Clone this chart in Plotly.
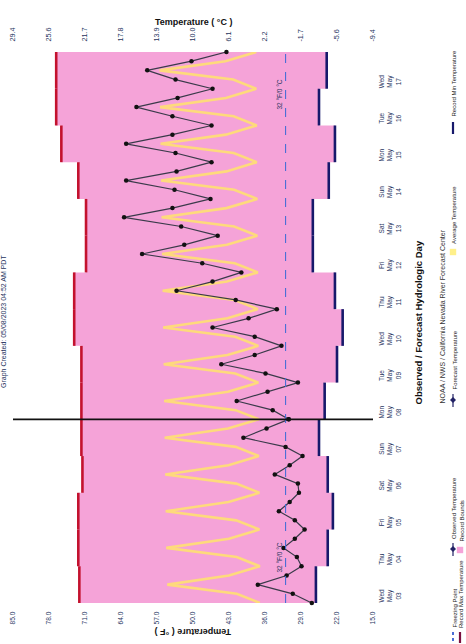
import plotly.graph_objects as go
import pandas as pd

# ---------------- data ----------------
start_time = "2023-05-02 20:00"
n_points = 61  # 6-hourly, 15 days

obs_temp = [26.9, 30.6, 37.4, 31.8, 28.9, 29.8, 32.4, 30.2, 28.3, 30.2, 33.3,
            31.2, 29.4, 29.6, 34.1, 31.2, 28.7, 32.0, 40.2, 35.7, 31.4]
fcst_temp = [34.5, 41.5, 35.5, 29.6, 35.9, 44.5, 38.0, 32.8, 38.0, 46.2,
             39.2, 33.7, 41.7, 53.2, 46.2, 40.6, 48.2, 59.9, 51.7, 45.2,
             52.3, 63.4, 54.0, 46.6, 53.6, 63.0, 53.2, 46.4, 53.4, 63.0,
             54.0, 46.4, 54.0, 61.0, 53.0, 46.2, 53.4, 58.9, 50.3, 43.5]
avg_temp = [37.0, 41.5, 55.0, 43.0, 37.0, 41.5, 55.2, 43.0, 37.1, 41.6, 55.3, 43.1,
            37.1, 41.6, 55.4, 43.1, 37.2, 41.7, 55.5, 43.2, 37.2, 41.7, 55.6, 43.2,
            37.3, 41.8, 55.7, 43.3, 37.3, 41.8, 55.8, 43.3, 37.4, 41.9, 55.9, 43.4,
            37.4, 41.9, 56.0, 43.4, 37.5, 42.0, 56.1, 43.5, 37.5, 42.0, 56.2, 43.5,
            37.6, 42.1, 56.3, 43.6, 37.6, 42.1, 56.4, 43.6, 37.7, 42.2, 56.5, 43.7,
            37.7]
record_max = [72.1, 72.3, 72.3, 71.5, 71.7, 71.7, 71.7, 73.1, 73.1, 70.8,
              70.8, 72.3, 75.6, 76.6, 76.6]
record_min = [26.1, 23.8, 22.8, 23.8, 25.5, 24.4, 22.0, 20.9, 22.4, 26.7,
              26.7, 23.6, 22.4, 25.5, 24.0]
freezing_f = 32.0
now_time = "2023-05-07 20:00"

f_ticks = [85.0, 78.0, 71.0, 64.0, 57.0, 50.0, 43.0, 36.0, 29.0, 22.0, 15.0]
f_labels = ["85.0", "78.0", "71.0", "64.0", "57.0", "50.0", "43.0", "36.0",
            "29.0", "22.0", "15.0"]
c_labels = ["29.4", "25.6", "21.7", "17.8", "13.9", "10.0", "6.1", "2.2",
            "-1.7", "-5.6", "-9.4"]
day_ticks = ["2023-05-03", "2023-05-04", "2023-05-05", "2023-05-06", "2023-05-07",
             "2023-05-08", "2023-05-09", "2023-05-10", "2023-05-11", "2023-05-12",
             "2023-05-13", "2023-05-14", "2023-05-15", "2023-05-16", "2023-05-17"]
day_labels = ["Wed<br>May<br>03", "Thu<br>May<br>04", "Fri<br>May<br>05",
              "Sat<br>May<br>06", "Sun<br>May<br>07", "Mon<br>May<br>08",
              "Tue<br>May<br>09", "Wed<br>May<br>10", "Thu<br>May<br>11",
              "Fri<br>May<br>12", "Sat<br>May<br>13", "Sun<br>May<br>14",
              "Mon<br>May<br>15", "Tue<br>May<br>16", "Wed<br>May<br>17"]

# ---------------- derived ----------------
times = pd.date_range(start_time, periods=n_points, freq="6h")
day_edges = pd.date_range(start_time, periods=len(record_max) + 1, freq="D")
obs_times = times[:len(obs_temp)]
fc_times = times[len(obs_temp) - 1:]
fc_vals = [obs_temp[-1]] + fcst_temp

# ---------------- styles ----------------
W, H = 466, 644
L, R, T, B = 13, 93, 52, 41
PW, PH = W - L - R, H - T - B
FONT = "Liberation Sans Narrow, Liberation Sans, Arial, sans-serif"
TXT = "#26335e"
PINK = "#F5A3D8"
RED = "#C3122E"
NAVY = "#17196b"
YEL = "rgba(255,225,110,0.88)"


def px(x):
    return (x - L) / PW


def py(y):
    return (H - B - y) / PH


fig = go.Figure()

# record bounds band (step polygon)
poly_x, poly_y = [], []
for k, v in enumerate(record_max):
    poly_x += [v, v]
    poly_y += [day_edges[k], day_edges[k + 1]]
for k in range(len(record_min) - 1, -1, -1):
    v = record_min[k]
    poly_x += [v, v]
    poly_y += [day_edges[k + 1], day_edges[k]]
fig.add_trace(go.Scatter(x=poly_x, y=poly_y, fill="toself", fillcolor=PINK,
                         line=dict(width=0), mode="lines", hoverinfo="skip",
                         showlegend=False))


def steps(vals):
    xs, ys = [], []
    for k, v in enumerate(vals):
        xs += [v, v, None]
        ys += [day_edges[k], day_edges[k + 1], None]
    return xs, ys


mx, my = steps(record_max)
fig.add_trace(go.Scatter(x=mx, y=my, mode="lines", line=dict(color=RED, width=2.6),
                         showlegend=False, cliponaxis=False))
nx, ny = steps(record_min)
fig.add_trace(go.Scatter(x=nx, y=ny, mode="lines", line=dict(color=NAVY, width=2.6),
                         showlegend=False, cliponaxis=False))

# average temperature
fig.add_trace(go.Scatter(x=avg_temp, y=times, mode="lines",
                         line=dict(color=YEL, width=2.6), showlegend=False))

# freezing point
fig.add_trace(go.Scatter(x=[freezing_f, freezing_f], y=[times[0], times[-1]],
                         mode="lines", xaxis="x2",
                         line=dict(color="#4a6ed6", width=1.1, dash="dash"),
                         showlegend=False))

# observed + forecast
fig.add_trace(go.Scatter(x=obs_temp, y=obs_times, mode="lines+markers",
                         line=dict(color="#3a3a4a", width=1.2),
                         marker=dict(color="#111111", size=4.5),
                         showlegend=False, cliponaxis=False))
fig.add_trace(go.Scatter(x=fc_vals, y=fc_times, mode="lines+markers",
                         line=dict(color="#3a3a4a", width=1.2),
                         marker=dict(color="#111111", size=4.5),
                         showlegend=False, cliponaxis=False))

shapes = []
# now line
shapes.append(dict(type="line", xref="paper", x0=0, x1=1, yref="y",
                   y0=now_time, y1=now_time, line=dict(color="#111111", width=1.6)))

annotations = []
# freezing labels
for yc in (78, 575):
    annotations.append(dict(xref="x", x=freezing_f, xshift=-7, yref="paper", y=py(yc),
                            text="32 °F/0 °C", textangle=-90, showarrow=False,
                            font=dict(family=FONT, size=6.5, color=TXT)))

# titles
annotations.append(dict(xref="paper", x=0.5, yref="paper", y=py(15),
                        text="<b>Temperature ( °C )</b>", showarrow=False,
                        font=dict(family=FONT, size=9, color="#111111")))
annotations.append(dict(xref="paper", x=0.5, yref="paper", y=py(638),
                        text="<b>Temperature ( °F )</b>", textangle=180, showarrow=False,
                        borderpad=0,
                        font=dict(family=FONT, size=9, color="#111111")))
annotations.append(dict(xref="paper", x=px(425), yref="paper", y=py(323),
                        text="<b>Observed / Forecast Hydrologic Day</b>", textangle=-90,
                        showarrow=False, font=dict(family=FONT, size=9.5, color="#111111")))
annotations.append(dict(xref="paper", x=px(447), yref="paper", y=py(317),
                        text="NOAA / NWS / California Nevada River Forecast Center",
                        textangle=-90, showarrow=False,
                        font=dict(family=FONT, size=7, color="#333333")))
annotations.append(dict(xref="paper", x=px(-1), yref="paper", y=py(322),
                        text="Graph Created: 05/08/2023 04:52 AM PDT",
                        textangle=-90, showarrow=False, borderpad=0,
                        font=dict(family=FONT, size=7, color=TXT)))


def leg_text(x, y0, text):
    annotations.append(dict(xref="paper", x=px(x), yref="paper", y=py(y0),
                            xanchor="center", yanchor="bottom", text=text,
                            textangle=-90, showarrow=False, borderpad=0,
                            font=dict(family=FONT, size=6, color="#222222")))


def leg_vline(x, y0, y1, color, width, dash="solid"):
    shapes.append(dict(type="line", xref="paper", yref="paper", x0=px(x), x1=px(x),
                       y0=py(y0), y1=py(y1), line=dict(color=color, width=width, dash=dash)))


def leg_square(x, yc, color, s=3.2):
    shapes.append(dict(type="rect", xref="paper", yref="paper",
                       x0=px(x - s), x1=px(x + s), y0=py(yc + s), y1=py(yc - s),
                       fillcolor=color, line=dict(width=0)))


def leg_diamond(x, yc, s=3):
    shapes.append(dict(type="path", xref="paper", yref="paper",
                       path=f"M {px(x)} {py(yc - s)} L {px(x + s)} {py(yc)} "
                            f"L {px(x)} {py(yc + s)} L {px(x - s)} {py(yc)} Z",
                       fillcolor="#222266", line=dict(width=0)))


c1, c2 = 453, 460
leg_vline(c1, 632, 643, "#4a6ed6", 2, "dot")
leg_text(c1 + 1, 629, "Freezing Point")
leg_vline(c1, 543, 556, "#222266", 1.2)
leg_diamond(c1, 549)
leg_text(c1 + 1, 540, "Observed Temperature")
leg_vline(c1, 394, 407, "#222266", 1.2)
leg_diamond(c1, 400)
leg_text(c1 + 1, 391, "Forecast Temperature")
leg_square(c1, 252, "#FFF08A")
leg_text(c1 + 1, 245, "Average Temperature")
leg_vline(c1, 122, 134, NAVY, 2.2)
leg_text(c1 + 1, 118, "Record Min Temperature")
leg_vline(c2, 632, 643, "#7a1040", 2.2)
leg_text(c2 + 1, 629, "Record Max Temperature")
leg_square(c2, 550, PINK)
leg_text(c2 + 1, 543, "Record Bounds")

fig.update_layout(
    width=W, height=H,
    margin=dict(l=L, r=R, t=T, b=B, pad=0, autoexpand=False),
    plot_bgcolor="white", paper_bgcolor="white",
    font=dict(family=FONT, color=TXT),
    showlegend=False,
    shapes=shapes, annotations=annotations,
    xaxis=dict(range=[85, 15], tickmode="array", tickvals=f_ticks, ticktext=f_labels,
               tickangle=-90, tickfont=dict(size=6.6, color=TXT), showgrid=False,
               zeroline=False, showline=False, ticks="outside", ticklen=5,
               tickcolor="rgba(0,0,0,0)", automargin=False),
    xaxis2=dict(range=[85, 15], matches="x", overlaying="x", side="top",
                tickmode="array", tickvals=f_ticks, ticktext=c_labels, tickangle=-90,
                tickfont=dict(size=7.2, color=TXT), showgrid=False, zeroline=False,
                showline=False, ticks="outside", ticklen=8, tickcolor="rgba(0,0,0,0)",
                automargin=False),
    yaxis=dict(type="date", range=[times[0], times[-1]], side="right",
               tickmode="array", tickvals=day_ticks, ticktext=day_labels,
               tickangle=-90, tickfont=dict(size=6.5, color=TXT), showgrid=False,
               zeroline=False, showline=False, ticks="outside", ticklen=2,
               tickcolor="rgba(0,0,0,0)", automargin=False),
)

fig.write_html("out.html", config={"displayModeBar": False},
               post_script="document.body.style.margin='0';"
                           "document.body.style.overflow='hidden';")
